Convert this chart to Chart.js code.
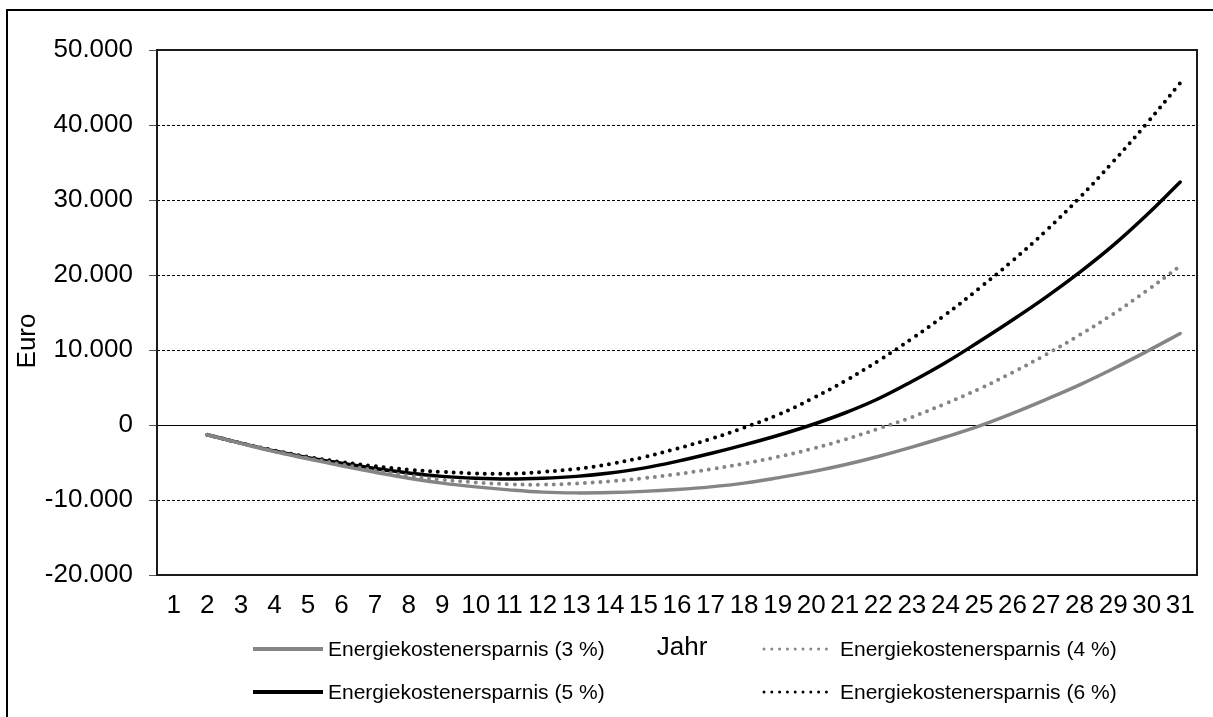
<!DOCTYPE html>
<html lang="de">
<head>
<meta charset="utf-8">
<title>Energiekostenersparnis</title>
<script src="https://cdn.jsdelivr.net/npm/chart.js@4.4.1/dist/chart.umd.min.js"></script>
<style>
  html, body { margin: 0; padding: 0; background: #fff; }
  #wrap { position: relative; width: 1213px; height: 717px; overflow: hidden; }
  #frame { position: absolute; left: 6px; top: 9px; width: 1400px; height: 900px;
           border: 2px solid #000; box-sizing: border-box; pointer-events: none; }
  canvas { position: absolute; left: 0; top: 0; }
</style>
</head>
<body>
<div id="wrap">
  <canvas id="chart" width="1213" height="717"></canvas>
  <div id="frame"></div>
</div>
<script>
// Jahre 1–31 (Jahr 1 ohne Wert)
const years = ['1','2','3','4','5','6','7','8','9','10','11','12','13','14','15','16',
               '17','18','19','20','21','22','23','24','25','26','27','28','29','30','31'];

// Kumulierte Ersparnis in Euro je angenommener Energiepreissteigerung
const saving3 = [null, -1300, -2450, -3550, -4500, -5450, -6300, -7100, -7750, -8250,
  -8650, -8950, -9050, -9000, -8850, -8600, -8250, -7750, -7050, -6250,
  -5300, -4200, -2950, -1600, -150, 1550, 3400, 5350, 7500, 9800, 12200];
const saving4 = [null, -1300, -2430, -3500, -4400, -5250, -6050, -6750, -7300, -7650,
  -7900, -7950, -7800, -7500, -7100, -6550, -5900, -5150, -4250, -3200,
  -1950, -500, 1050, 2850, 4800, 7000, 9400, 12000, 14800, 17900, 21200];
const saving5 = [null, -1300, -2420, -3470, -4350, -5100, -5800, -6400, -6850, -7100,
  -7200, -7100, -6850, -6400, -5750, -4850, -3800, -2650, -1400, 0,
  1600, 3500, 5800, 8300, 11100, 14000, 17050, 20350, 23950, 28000, 32400];
const saving6 = [null, -1300, -2400, -3400, -4250, -4950, -5500, -5950, -6250, -6450,
  -6500, -6250, -5850, -5200, -4300, -3150, -1850, -350, 1350, 3450,
  5850, 8550, 11500, 14700, 18200, 21900, 25900, 30300, 35100, 40200, 45600];

const seriesLabels = ['Energiekostenersparnis (3 %)', 'Energiekostenersparnis (4 %)',
                      'Energiekostenersparnis (5 %)', 'Energiekostenersparnis (6 %)'];

const yMin = -20000, yMax = 50000, yStep = 10000;

const FONT = '"Liberation Sans", Arial, sans-serif';
const GREY = '#858585';
const DOTS = [0, 7.8];

function fmtDE(v) {
  const s = Math.abs(v).toString().replace(/\B(?=(\d{3})+(?!\d))/g, '.');
  return (v < 0 ? '-' : '') + s;
}

function lineSet(label, data, color, dash) {
  return {
    label, data,
    borderColor: color,
    backgroundColor: color,
    borderWidth: dash.length ? 4 : 3.5,
    borderDash: dash,
    borderCapStyle: 'round',
    borderJoinStyle: 'round',
    pointRadius: 0,
    pointHoverRadius: 0,
    fill: false,
    spanGaps: false,
    tension: 0.4
  };
}

// Nulllinie, Rahmen des Diagrammbereichs, Achsentitel und Legende
const decor = {
  id: 'decor',
  beforeDatasetsDraw(chart) {
    const { ctx, chartArea: a, scales: { y } } = chart;
    const y0 = Math.round(y.getPixelForValue(0)) + 0.5;
    ctx.save();
    ctx.setLineDash([]);
    ctx.strokeStyle = '#000';
    ctx.lineWidth = 1;
    ctx.beginPath();
    ctx.moveTo(a.left, y0);
    ctx.lineTo(a.right, y0);
    ctx.stroke();
    ctx.lineWidth = 2;
    ctx.strokeStyle = '#1a1a1a';
    ctx.strokeRect(a.left, a.top, a.right - a.left, a.bottom - a.top);
    ctx.restore();
  },
  afterDraw(chart) {
    const { ctx, chartArea: a } = chart;
    ctx.save();
    ctx.fillStyle = '#000';
    ctx.font = '26px ' + FONT;
    ctx.textAlign = 'center';
    ctx.textBaseline = 'middle';
    // y-Achsentitel
    ctx.save();
    ctx.translate(28, a.top + 291);
    ctx.rotate(-Math.PI / 2);
    ctx.fillText('Euro', 0, 0);
    ctx.restore();
    // x-Achsentitel
    ctx.fillText('Jahr', (a.left + a.right) / 2 + 5, a.bottom + 73);

    // Legende in zwei Spalten
    const colLine = [253, 762];
    const colText = [328, 840];
    const rowY = [a.bottom + 74, a.bottom + 117];
    ctx.font = '21px ' + FONT;
    ctx.textAlign = 'left';
    chart.data.datasets.forEach((ds, i) => {
      const col = i % 2, row = Math.floor(i / 2);
      const yy = rowY[row];
      ctx.save();
      ctx.strokeStyle = ds.borderColor;
      ctx.lineWidth = ds.borderDash.length ? 3 : 4;
      ctx.lineCap = ds.borderDash.length ? 'round' : 'butt';
      ctx.setLineDash(ds.borderDash);
      ctx.beginPath();
      ctx.moveTo(colLine[col] + (ds.borderDash.length ? 2 : 0), yy);
      ctx.lineTo(colLine[col] + 70, yy);
      ctx.stroke();
      ctx.restore();
      ctx.fillText(ds.label, colText[col], yy + 1);
    });
    ctx.restore();
  }
};

new Chart(document.getElementById('chart'), {
  type: 'line',
  data: {
    labels: years,
    datasets: [
      lineSet(seriesLabels[0], saving3, GREY, []),
      lineSet(seriesLabels[1], saving4, GREY, DOTS),
      lineSet(seriesLabels[2], saving5, '#000', []),
      lineSet(seriesLabels[3], saving6, '#000', DOTS)
    ]
  },
  options: {
    responsive: false,
    animation: false,
    events: [],
    layout: { padding: { top: 50, right: 16, left: 0, bottom: 0 } },
    plugins: { legend: { display: false }, tooltip: { enabled: false }, title: { display: false } },
    scales: {
      x: {
        type: 'category',
        offset: true,
        grid: { display: false, drawTicks: false },
        border: { display: false },
        ticks: {
          color: '#000',
          font: { family: FONT, size: 26 },
          padding: 15,
          maxRotation: 0,
          autoSkip: false
        },
        afterFit(s) { s.height = 142; }
      },
      y: {
        min: yMin,
        max: yMax,
        grid: {
          color: '#000',
          lineWidth: 1,
          drawTicks: true,
          tickLength: 8,
          tickColor: '#555',
          tickWidth: 1,
          tickBorderDash: []
        },
        border: { display: false, dash: [3, 2] },
        ticks: {
          stepSize: yStep,
          color: '#000',
          font: { family: FONT, size: 26 },
          padding: 16,
          callback: (v) => fmtDE(v)
        },
        afterFit(s) { s.width = 157; }
      }
    }
  },
  plugins: [decor]
});
</script>
</body>
</html>
